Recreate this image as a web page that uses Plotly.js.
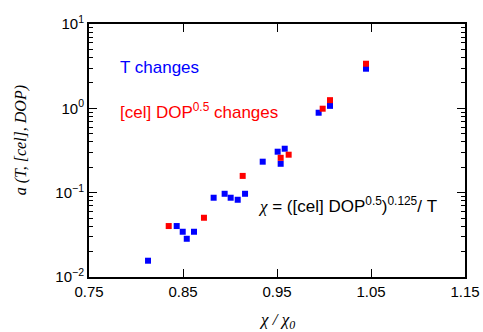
<!DOCTYPE html>
<html>
<head>
<meta charset="utf-8">
<script src="https://cdn.plot.ly/plotly-3.0.1.min.js"></script>
<style>html,body{margin:0;padding:0;background:#fff;}#chart{width:483px;height:332px;}</style>
</head>
<body>
<div id="chart"></div>
<script>
// T changes (blue)
var tChangeX = [0.8128, 0.8433, 0.8497, 0.854, 0.8617, 0.8826, 0.8943, 0.9007, 0.9082, 0.916, 0.9348, 0.9507, 0.9539, 0.9582, 0.9943, 1.0064, 1.0447];
var tChangeY = [0.0156, 0.0402, 0.0344, 0.0284, 0.0344, 0.0871, 0.097, 0.0871, 0.0824, 0.097, 0.233, 0.306, 0.220, 0.332, 0.887, 1.07, 2.95];
// [cel] DOP^0.5 changes (red)
var celChangeX = [0.8348, 0.8723, 0.9135, 0.9539, 0.9624, 0.9986, 1.0064, 1.0447];
var celChangeY = [0.0402, 0.0504, 0.158, 0.259, 0.282, 0.99, 1.25, 3.38];

var xTickVals = [0.75, 0.85, 0.95, 1.05, 1.15];
var xTickText = ['0.75', '0.85', '0.95', '1.05', '1.15'];
var yTickVals = [0.01, 0.1, 1, 10];
var yTickText = ['10<sup>\u22122</sup>', '10<sup>\u22121</sup>', '10<sup>0</sup>', '10<sup>1</sup>'];

var sans = 'Liberation Sans, Arial, sans-serif';
var serif = 'Liberation Serif, Times New Roman, serif';

var traces = [
  {x: tChangeX, y: tChangeY, type: 'scatter', mode: 'markers', name: 'T changes',
   marker: {symbol: 'square', size: 6, color: '#0000ff', line: {width: 0}}},
  {x: celChangeX, y: celChangeY, type: 'scatter', mode: 'markers', name: '[cel] DOP changes',
   marker: {symbol: 'square', size: 6, color: '#ff0000', line: {width: 0}}}
];

var layout = {
  width: 483, height: 332,
  margin: {l: 89, r: 18, t: 24, b: 55},
  paper_bgcolor: '#fff', plot_bgcolor: '#fff',
  showlegend: false,
  font: {family: sans, size: 15, color: '#000'},
  xaxis: {
    range: [0.75, 1.15], tickvals: xTickVals, ticktext: xTickText,
    showgrid: false, zeroline: false, showline: true, linewidth: 2, linecolor: '#000',
    mirror: 'allticks', ticks: 'inside', ticklen: 8, tickwidth: 1, tickcolor: '#000',
    tickfont: {family: sans, size: 15, color: '#000'}
  },
  yaxis: {
    type: 'log', range: [-2, 1], tickvals: yTickVals, ticktext: yTickText,
    showgrid: false, zeroline: false, showline: true, linewidth: 2, linecolor: '#000',
    mirror: 'allticks', ticks: 'inside', ticklen: 8, tickwidth: 1, tickcolor: '#000',
    tickfont: {family: sans, size: 15, color: '#000'},
    minor: {ticks: 'inside', ticklen: 4, tickwidth: 1, tickcolor: '#000', dtick: 'D1', showgrid: false}
  },
  annotations: [
    {xref: 'paper', yref: 'paper', x: 0.078, y: 0.83, xanchor: 'left', yanchor: 'middle',
     text: 'T changes', showarrow: false, font: {family: sans, size: 17, color: '#0000ff'}},
    {xref: 'paper', yref: 'paper', x: 0.078, y: 0.655, xanchor: 'left', yanchor: 'middle',
     text: '[cel] DOP<sup>0.5</sup> changes', showarrow: false, font: {family: sans, size: 17, color: '#ff0000'}},
    {xref: 'paper', yref: 'paper', x: 0.445, y: 0.285, xanchor: 'left', yanchor: 'middle',
     text: '<span style="font-family:Liberation Serif, serif;font-style:italic">\u03c7</span> = ([cel] DOP<sup>0.5</sup>)<sup>0.125</sup>/ T',
     showarrow: false, font: {family: sans, size: 17, color: '#000'}},
    {xref: 'paper', yref: 'paper', x: 0.5, y: -0.175, xanchor: 'center', yanchor: 'middle',
     text: '<i>\u03c7 / \u03c7<sub>0</sub></i>', showarrow: false, font: {family: serif, size: 17, color: '#000'}},
    {xref: 'paper', yref: 'paper', x: -0.181, y: 0.54, xanchor: 'center', yanchor: 'middle', textangle: -90,
     text: '<i>a (T, [cel], DOP)</i>', showarrow: false, font: {family: serif, size: 16, color: '#000'}}
  ]
};

Plotly.newPlot('chart', traces, layout, {displayModeBar: false, staticPlot: true});
</script>
</body>
</html>
